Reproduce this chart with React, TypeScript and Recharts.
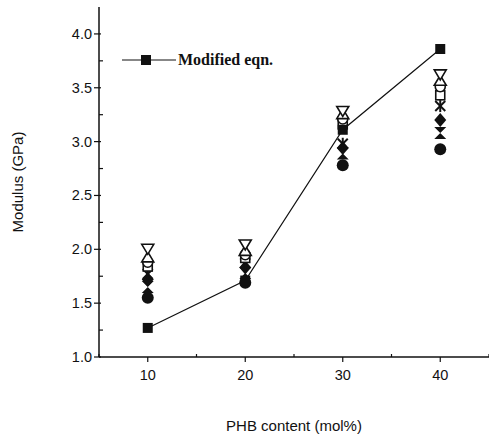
import { Scatter, ScatterChart, XAxis, YAxis } from "recharts";

// PHB content (mol%)
const phbContent = [10, 20, 30, 40];

// Modulus (GPa)
const modifiedEqn = [1.27, 1.71, 3.11, 3.86];
const invTriangle = [2.0, 2.04, 3.28, 3.62];
const openTriangle = [1.93, 1.99, 3.26, 3.57];
const openCircle = [1.88, 1.95, 3.21, 3.51];
const openSquare = [1.84, 1.92, 3.16, 3.43];
const asterisk = [1.77, 1.87, 2.98, 3.33];
const filledDiamond = [1.72, 1.83, 2.94, 3.2];
const hourglass = [1.65, 1.78, 2.89, 3.08];
const filledCircle = [1.55, 1.69, 2.78, 2.93];

const yTicks = [1, 1.25, 1.5, 1.75, 2, 2.25, 2.5, 2.75, 3, 3.25, 3.5, 3.75, 4];
const xTicks = [5, 10, 15, 20, 25, 30, 35, 40, 45];

const toPoints = (vals: number[]) =>
  phbContent.map((x, i) => ({ x, y: vals[i] }));

const SANS = "Arial, 'Liberation Sans', Helvetica, sans-serif";
const INK = "#111";

type P = { cx?: number; cy?: number };

const shapes = {
  square: ({ cx = 0, cy = 0 }: P) => (
    <rect x={cx - 5} y={cy - 5} width={10} height={10} fill={INK} />
  ),
  openSquare: ({ cx = 0, cy = 0 }: P) => (
    <rect x={cx - 4.5} y={cy - 4.5} width={9} height={9} fill="#fff" stroke={INK} strokeWidth={1.6} />
  ),
  invTri: ({ cx = 0, cy = 0 }: P) => (
    <path d={`M${cx - 6},${cy - 5}L${cx + 6},${cy - 5}L${cx},${cy + 5}Z`} fill="#fff" stroke={INK} strokeWidth={1.6} />
  ),
  tri: ({ cx = 0, cy = 0 }: P) => (
    <path d={`M${cx - 6},${cy + 5}L${cx + 6},${cy + 5}L${cx},${cy - 5}Z`} fill="#fff" stroke={INK} strokeWidth={1.6} />
  ),
  openCircle: ({ cx = 0, cy = 0 }: P) => (
    <circle cx={cx} cy={cy} r={5} fill="#fff" stroke={INK} strokeWidth={1.6} />
  ),
  asterisk: ({ cx = 0, cy = 0 }: P) => (
    <g stroke={INK} strokeWidth={2}>
      <line x1={cx - 5} y1={cy - 5} x2={cx + 5} y2={cy + 5} />
      <line x1={cx - 5} y1={cy + 5} x2={cx + 5} y2={cy - 5} />
      <line x1={cx} y1={cy - 6} x2={cx} y2={cy + 6} />
    </g>
  ),
  diamond: ({ cx = 0, cy = 0 }: P) => (
    <path d={`M${cx},${cy - 7}L${cx + 6},${cy}L${cx},${cy + 7}L${cx - 6},${cy}Z`} fill={INK} />
  ),
  hourglass: ({ cx = 0, cy = 0 }: P) => (
    <path d={`M${cx - 6},${cy - 6}L${cx + 6},${cy - 6}L${cx - 6},${cy + 6}L${cx + 6},${cy + 6}Z`} fill={INK} />
  ),
  filledCircle: ({ cx = 0, cy = 0 }: P) => (
    <circle cx={cx} cy={cy} r={6} fill={INK} />
  ),
};

function YTick({ x, y, payload }: { x?: number; y?: number; payload?: { value: number } }) {
  const v = payload?.value ?? 0;
  const major = Math.abs(v * 2 - Math.round(v * 2)) < 1e-6;
  const ax = x ?? 0;
  const ay = y ?? 0;
  if (!major) {
    return <line x1={ax} y1={ay} x2={ax + 4} y2={ay} stroke={INK} strokeWidth={1.2} />;
  }
  return (
    <g>
      <line x1={ax - 5} y1={ay} x2={ax + 2} y2={ay} stroke={INK} strokeWidth={1.2} />
      <text x={ax - 7} y={ay + 5} textAnchor="end" fontSize={14.5} fontFamily={SANS} fill={INK}>
        {v.toFixed(1)}
      </text>
    </g>
  );
}

function XTick({ x, y, payload }: { x?: number; y?: number; payload?: { value: number } }) {
  const v = payload?.value ?? 0;
  const major = v % 10 === 0;
  const ax = x ?? 0;
  const ay = y ?? 0;
  if (!major) {
    return <line x1={ax} y1={ay} x2={ax} y2={ay - 3} stroke={INK} strokeWidth={1.2} />;
  }
  return (
    <g>
      <line x1={ax} y1={ay} x2={ax} y2={ay + 5} stroke={INK} strokeWidth={1.2} />
      <text x={ax} y={ay + 23} textAnchor="middle" fontSize={14.5} fontFamily={SANS} fill={INK}>
        {v}
      </text>
    </g>
  );
}

function LegendBox() {
  return (
    <svg width={200} height={24} style={{ position: "absolute", left: 120, top: 48 }}>
      <line x1={2} y1={12} x2={56} y2={12} stroke={INK} strokeWidth={1.2} />
      <rect x={21} y={7} width={10} height={10} fill={INK} />
      <text x={58} y={17} fontSize={16} fontWeight="bold" fontFamily="'Times New Roman', 'Liberation Serif', serif" fill={INK}>
        Modified eqn.
      </text>
    </svg>
  );
}

export default function App() {
  return (
    <div style={{ position: "absolute", left: 0, top: 0, width: 489, height: 441, background: "#fff" }}>
      <ScatterChart width={489} height={441} margin={{ top: 7, right: 0, bottom: 0, left: 0 }}>
        <XAxis
          type="number"
          dataKey="x"
          domain={[5, 45]}
          ticks={xTicks}
          tick={<XTick />}
          tickLine={false}
          tickSize={0}
          tickMargin={0}
          axisLine={{ stroke: INK, strokeWidth: 1.5 }}
          height={84}
          interval={0}
          label={{ value: "PHB content (mol%)", position: "insideBottom", offset: 10, fontSize: 15, fontFamily: SANS, fill: INK }}
        />
        <YAxis
          type="number"
          dataKey="y"
          domain={[1, 4.25]}
          ticks={yTicks}
          tick={<YTick />}
          tickLine={false}
          tickSize={0}
          tickMargin={0}
          axisLine={{ stroke: INK, strokeWidth: 1.5 }}
          width={99}
          interval={0}
          label={{ value: "Modulus (GPa)", angle: -90, position: "insideLeft", offset: 18, fontSize: 15, fontFamily: SANS, fill: INK, style: { textAnchor: "middle" } }}
        />
        <Scatter name="filledCircle" data={toPoints(filledCircle)} shape={shapes.filledCircle} isAnimationActive={false} />
        <Scatter name="hourglass" data={toPoints(hourglass)} shape={shapes.hourglass} isAnimationActive={false} />
        <Scatter name="diamond" data={toPoints(filledDiamond)} shape={shapes.diamond} isAnimationActive={false} />
        <Scatter name="asterisk" data={toPoints(asterisk)} shape={shapes.asterisk} isAnimationActive={false} />
        <Scatter name="openSquare" data={toPoints(openSquare)} shape={shapes.openSquare} isAnimationActive={false} />
        <Scatter name="openCircle" data={toPoints(openCircle)} shape={shapes.openCircle} isAnimationActive={false} />
        <Scatter name="tri" data={toPoints(openTriangle)} shape={shapes.tri} isAnimationActive={false} />
        <Scatter name="invTri" data={toPoints(invTriangle)} shape={shapes.invTri} isAnimationActive={false} />
        <Scatter
          name="Modified eqn."
          data={toPoints(modifiedEqn)}
          shape={shapes.square}
          line={{ stroke: INK, strokeWidth: 1.2 }}
          isAnimationActive={false}
        />
      </ScatterChart>
      <LegendBox />
    </div>
  );
}
